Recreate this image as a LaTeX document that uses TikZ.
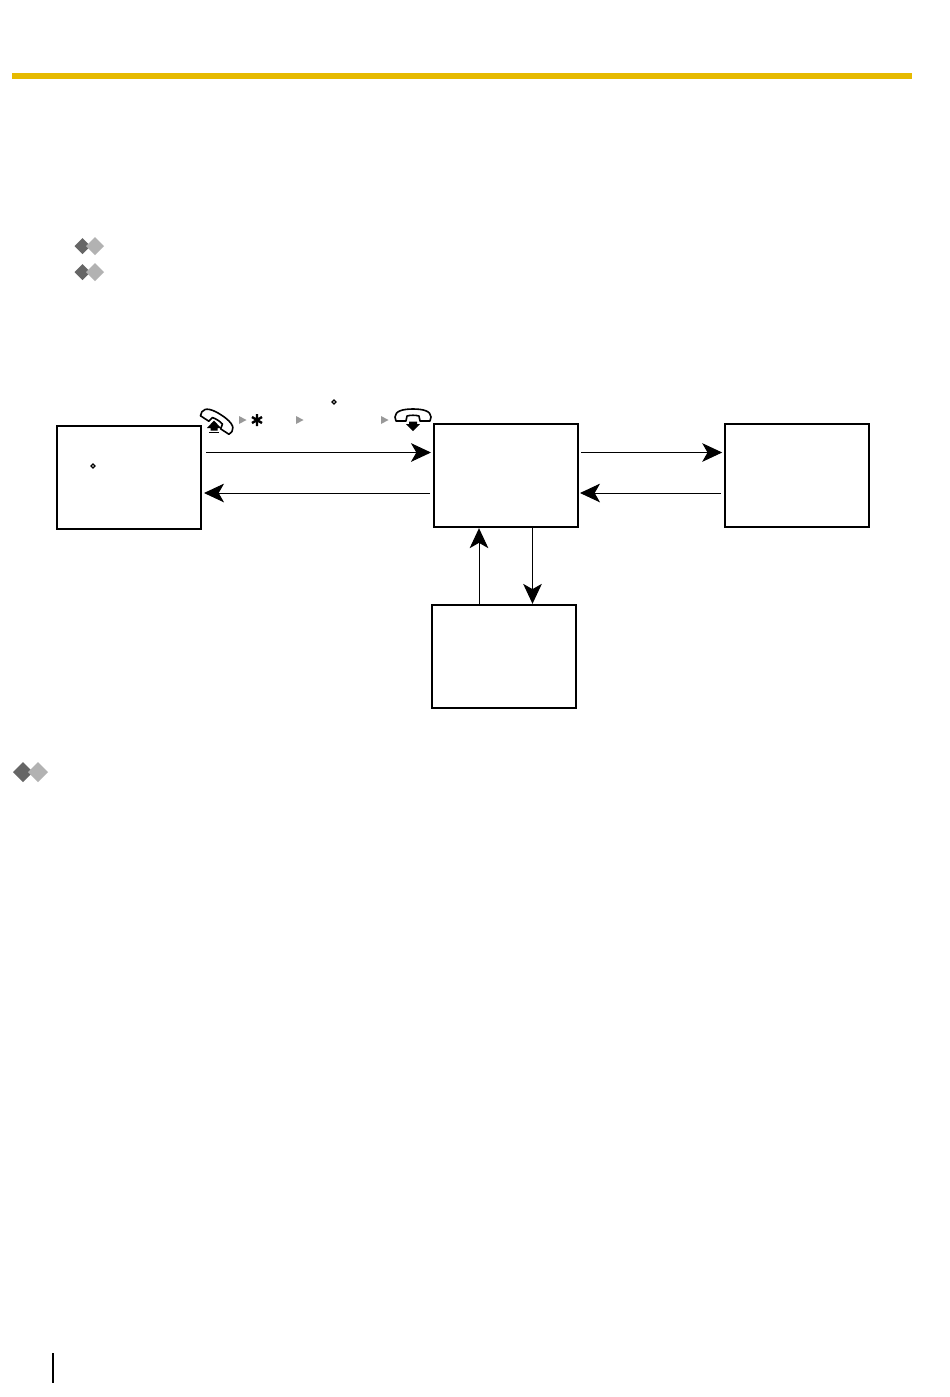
\documentclass[tikz,border=0pt]{standalone}
\usetikzlibrary{arrows.meta}
\definecolor{barcol}{HTML}{E6BA00}
\definecolor{dkd}{HTML}{666666}
\definecolor{ltd}{HTML}{B2B2B2}
\tikzset{
  statebox/.style={draw=black,line width=1.5pt,fill=white,rectangle,minimum width=108pt,minimum height=77.5pt,inner sep=0pt,outer sep=0pt},
  arr/.style={line width=0.75pt,-{Stealth[length=15pt,width=14pt,inset=4pt]}},
  tinyd/.style={draw=black,line width=0.9pt,fill=white},
  tri/.style={fill=gray!80},
  hand/.style={draw=black,line width=1.2pt,fill=white,line join=round}
}
\newcommand{\dd}[4]{\fill[#4] (#1-#3,#2) -- (#1,#2-#3) -- (#1+#3,#2) -- (#1,#2+#3) -- cycle;}
\newcommand{\handsetshape}{(-18,2) .. controls (-18,-4) and (-10,-6) .. (0,-6) .. controls (10,-6) and (18,-4) .. (18,2) -- (17,6) -- (7,6) -- (6,1) .. controls (3,0) and (-3,0) .. (-6,1) -- (-7,6) -- (-17,6) -- cycle}
\begin{document}
\begin{tikzpicture}[x=0.75pt,y=-0.75pt]
\useasboundingbox (0,0) rectangle (950,1397);
\fill[white] (0,0) rectangle (950,1397);
% top bar
\fill[barcol] (12,73) rectangle (912,79);
% diamonds
\dd{82.5}{246}{8}{dkd}\dd{95}{246}{9}{ltd}
\dd{82.5}{272}{8}{dkd}\dd{95}{272}{9}{ltd}
\dd{23}{772}{10}{dkd}\dd{38}{772}{10}{ltd}
% boxes
\node[statebox] (A) at (129,477.5) {};
\node[statebox] (B) at (506,475.5) {};
\node[statebox] (C) at (797.2,475.5) {};
\node[statebox] (D) at (504,656.5) {};
% connectors
\draw[arr] ([shift={(5,-25)}]A.east) -- ([shift={(-3,-23)}]B.west);
\draw[arr] ([shift={(-4,17.5)}]B.west) -- ([shift={(3,15.5)}]A.east);
\draw[arr] ([shift={(3,-23)}]B.east) -- ([shift={(-3,-23)}]C.west);
\draw[arr] ([shift={(-4,17.5)}]C.west) -- ([shift={(2,17.5)}]B.east);
\draw[arr] ([shift={(-25,0)}]D.north) -- ([shift={(-27,1)}]B.south);
\draw[arr] ([shift={(26.5,0)}]B.south) -- ([shift={(28.5,-1)}]D.north);
% tiny diamonds
\filldraw[tinyd] (91,466) -- (93,464) -- (95,466) -- (93,468) -- cycle;
\filldraw[tinyd] (332,402) -- (334,400) -- (336,402) -- (334,404) -- cycle;
% key sequence
\fill[tri] (239,416) -- (246.5,420) -- (239,424) -- cycle;
\fill[tri] (296,416) -- (303.5,420) -- (296,424) -- cycle;
\fill[tri] (381,416) -- (388.5,420) -- (381,424) -- cycle;
\draw[line width=1.8pt] (257,414) -- (257,426) (252,417) -- (262,423) (252,423) -- (262,417);
% off-hook handset
\begin{scope}[shift={(218,420)},rotate=-33]
\draw[hand] \handsetshape;
\end{scope}
\fill[black] (214,420.5) -- (221,428) -- (217.5,428) -- (217.5,430.5) -- (210.5,430.5) -- (210.5,428) -- (207,428) -- cycle;
\draw[line width=0.8pt] (209,432.5) -- (219,432.5);
% on-hook handset
\begin{scope}[shift={(413,415)}]
\draw[hand] \handsetshape;
\end{scope}
\fill[black] (413,431) -- (406,424) -- (409,424) -- (409,421.5) -- (417,421.5) -- (417,424) -- (420,424) -- cycle;
% page margin rule
\draw[line width=1.5pt] (53,1353) -- (53,1383);
\end{tikzpicture}
\end{document}
